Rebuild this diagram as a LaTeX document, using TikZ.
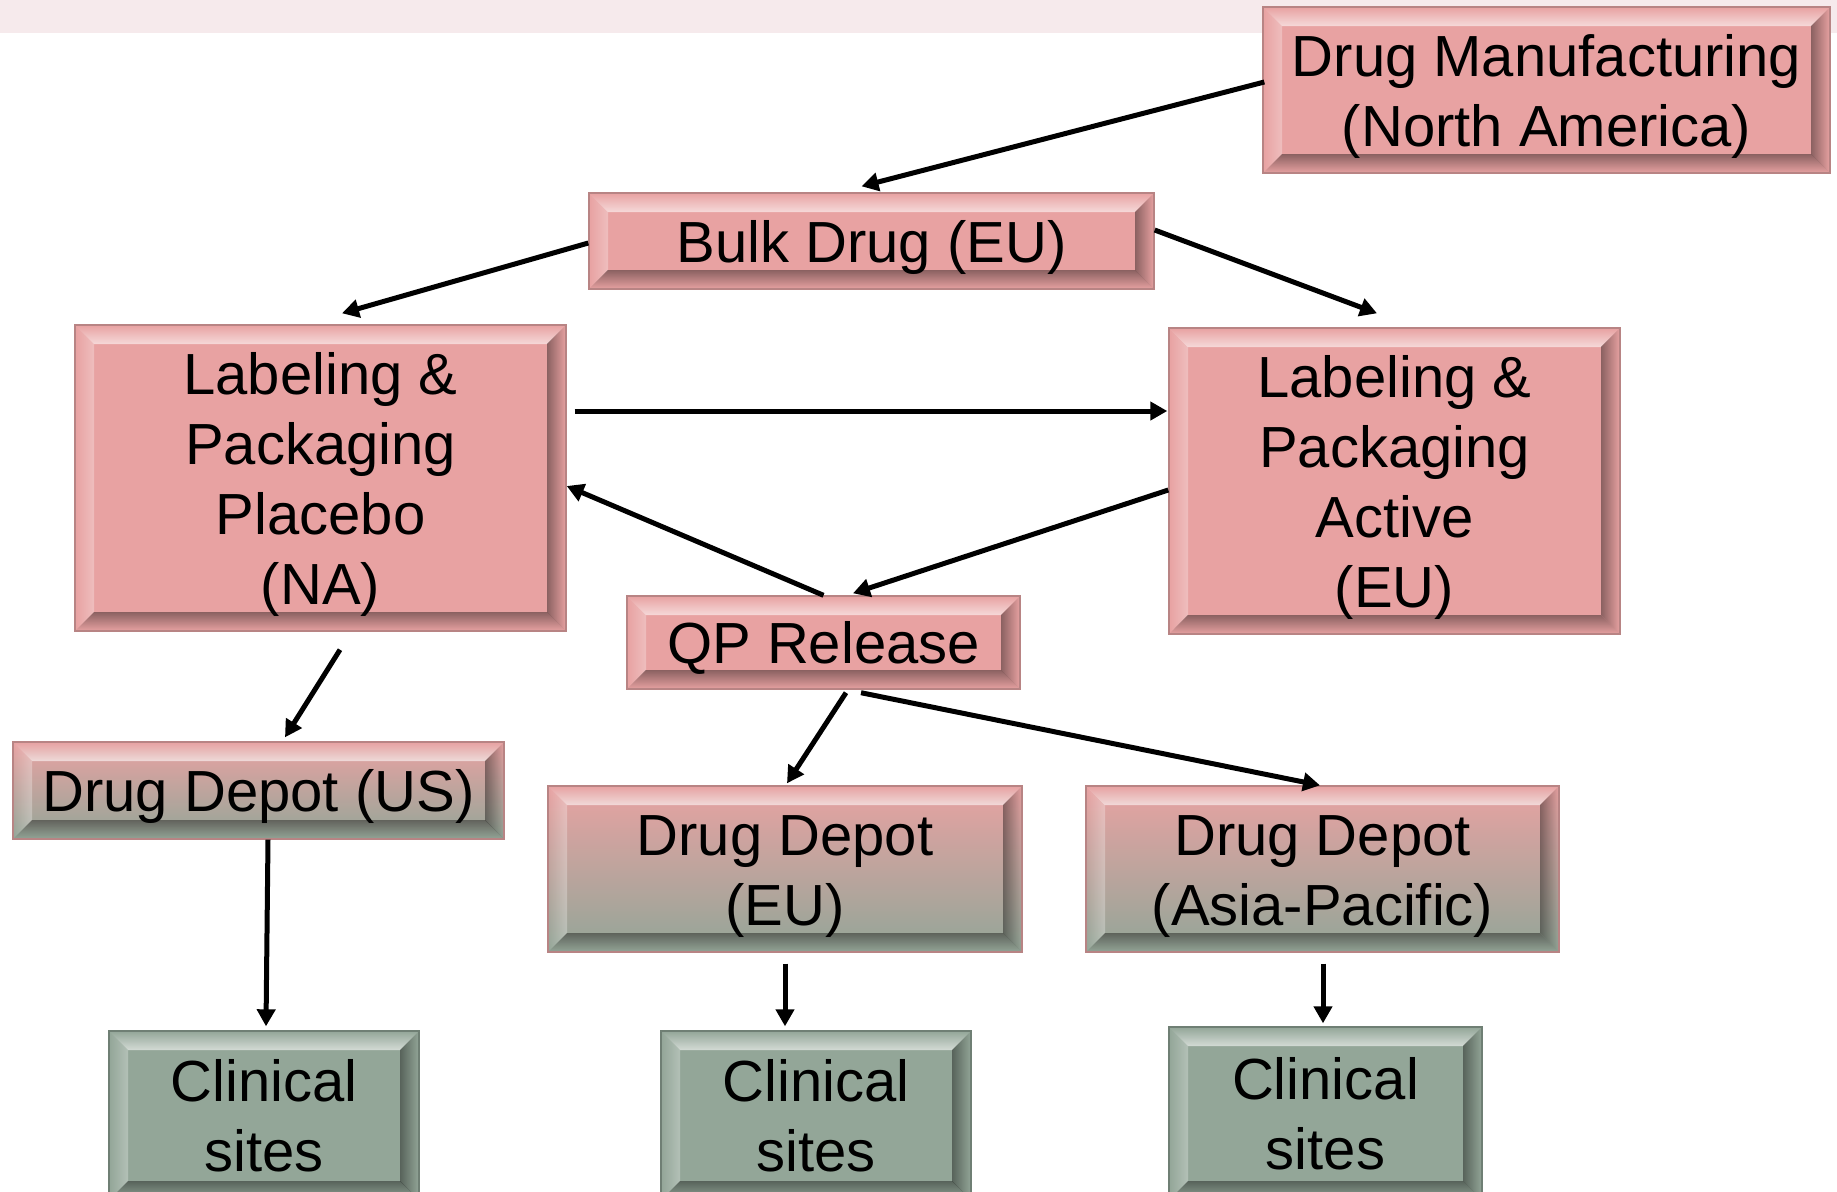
\documentclass[tikz,border=0pt]{standalone}
\usepackage{fontspec}
\setmainfont{Liberation Sans}
\usetikzlibrary{arrows.meta,calc,fadings}
\definecolor{pinkc}{HTML}{E8A2A2}
\definecolor{greenc}{HTML}{93A698}
\definecolor{bandc}{HTML}{F6EAEC}
\definecolor{pinkedge}{HTML}{B88484}
\definecolor{greenedge}{HTML}{6F7F74}
\newcommand\tx[1]{\rule{0pt}{28pt}#1\rule[-7pt]{0pt}{7pt}}
\tikzset{
  bevel/.style={path picture={
    \path (path picture bounding box.north west) coordinate (bA)
          (path picture bounding box.north east) coordinate (bB)
          (path picture bounding box.south east) coordinate (bC)
          (path picture bounding box.south west) coordinate (bD);
    \fill[white,opacity=.6,path fading=north] (bA) -- (bB) -- ($(bB)+(-9.5pt,-9.5pt)$) -- ($(bA)+(9.5pt,-9.5pt)$) -- cycle;
    \fill[white,opacity=.3,path fading=west] (bA) -- ($(bA)+(9.5pt,-9.5pt)$) -- ($(bD)+(9.5pt,9.5pt)$) -- (bD) -- cycle;
    \fill[black,opacity=.4,path fading=east] (bB) -- (bC) -- ($(bC)+(-9.5pt,9.5pt)$) -- ($(bB)+(-9.5pt,-9.5pt)$) -- cycle;
    \fill[black,opacity=.4,path fading=south] (bD) -- (bC) -- ($(bC)+(-9.5pt,9.5pt)$) -- ($(bD)+(9.5pt,9.5pt)$) -- cycle;
  }},
  boxbase/.style={inner sep=0pt, align=center, line width=.7pt,
    font=\fontsize{29}{35}\selectfont, bevel},
  pinkbox/.style={boxbase, fill=pinkc, draw=pinkedge},
  gradbox/.style={boxbase, top color=pinkc, bottom color=greenc, draw=pinkedge},
  greenbox/.style={boxbase, fill=greenc, draw=greenedge},
  arr/.style={line width=2.5pt, -{Triangle[length=8.5pt,width=9pt]}},
}
\begin{document}
\begin{tikzpicture}[x=0.5pt,y=-0.5pt]
\clip (0,0) rectangle (1837,1191);
\fill[white] (0,0) rectangle (1837,1191);
\fill[bandc] (0,0) rectangle (1837,33);

\node[pinkbox, minimum width=283.5pt, minimum height=83pt] (mfg) at (1546.5,90) {\tx{Drug Manufacturing\\(North America)}};
\node[pinkbox, minimum width=282.5pt, minimum height=48pt] (bulk) at (871.5,241) {\tx{Bulk Drug (EU)}};
\node[pinkbox, minimum width=245.5pt, minimum height=153pt] (plac) at (320.5,478) {\tx{Labeling \&\\Packaging\\Placebo\\(NA)}};
\node[pinkbox, minimum width=225.5pt, minimum height=153pt] (act) at (1394.5,481) {\tx{Labeling \&\\Packaging\\Active\\(EU)}};
\node[pinkbox, minimum width=196.5pt, minimum height=46.5pt] (qp) at (823.5,642.5) {\tx{QP Release}};
\node[gradbox, minimum width=245.5pt, minimum height=48.5pt] (dus) at (258.5,790.5) {\tx{Drug Depot (US)}};
\node[gradbox, minimum width=237pt, minimum height=83pt] (deu) at (785,869) {\tx{Drug Depot\\(EU)}};
\node[gradbox, minimum width=236.5pt, minimum height=83pt] (dap) at (1322.5,869) {\tx{Drug Depot\\(Asia-Pacific)}};
\node[greenbox, minimum width=155pt, minimum height=84.5pt] (cs1) at (264,1115.5) {\tx{Clinical\\sites}};
\node[greenbox, minimum width=155pt, minimum height=84.5pt] (cs2) at (816,1115.5) {\tx{Clinical\\sites}};
\node[greenbox, minimum width=156.5pt, minimum height=86.5pt] (cs3) at (1325.5,1113.5) {\tx{Clinical\\sites}};

\draw[arr] ($(mfg.west)+(2,-8)$) -- ($(bulk.north)+(-10,-6)$);
\draw[arr] ($(bulk.west)+(0,2)$) -- ($(plac.north)+(21.5,-11)$);
\draw[arr] ($(bulk.east)+(0,-11)$) -- ($(act.north)+(-17.5,-14)$);
\draw[arr] ($(plac.east)+(8,-67)$) -- ($(act.west)+(-1,-70)$);
\draw[arr] (qp.north) -- ($(plac.east)+(0,8)$);
\draw[arr] ($(act.west)+(0,9)$) -- ($(qp.north)+(29.5,-2)$);
\draw[arr] ($(plac.south)+(19.5,18)$) -- ($(dus.north)+(26.5,-4)$);
\draw[arr] ($(qp.south)+(22.5,3)$) -- ($(deu.north)+(2,-2)$);
\draw[arr] ($(qp.south)+(37.5,3)$) -- ($(dap.north)+(-2.5,0)$);
\draw[arr] ($(dus.south)+(9.5,0)$) -- ($(cs1.north)+(2,-4)$);
\draw[arr] ($(deu.south)+(0,11)$) -- ($(cs2.north)+(-31,-4)$);
\draw[arr] ($(dap.south)+(0.5,11)$) -- ($(cs3.north)+(-2.5,-3)$);
\end{tikzpicture}
\end{document}
